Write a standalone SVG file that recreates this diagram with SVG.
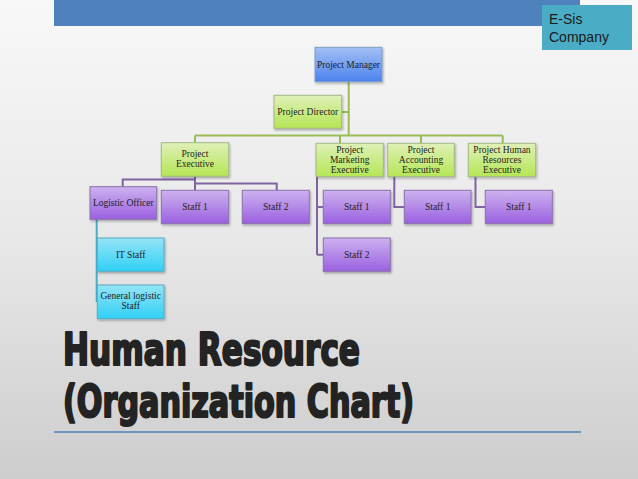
<svg xmlns="http://www.w3.org/2000/svg" width="638" height="479" viewBox="0 0 638 479">
<defs>
  <linearGradient id="bg" x1="0" y1="0" x2="0" y2="1">
    <stop offset="0" stop-color="#f8f8f8"/>
    <stop offset="0.5" stop-color="#e8e8e8"/>
    <stop offset="1" stop-color="#cdcdcd"/>
  </linearGradient>
  <linearGradient id="gBlue" x1="0" y1="0" x2="0" y2="1">
    <stop offset="0" stop-color="#a3c0f4"/>
    <stop offset="1" stop-color="#4c82ee"/>
  </linearGradient>
  <linearGradient id="gGreen" x1="0" y1="0" x2="0" y2="1">
    <stop offset="0" stop-color="#dff0b8"/>
    <stop offset="1" stop-color="#b5e655"/>
  </linearGradient>
  <linearGradient id="gPurple" x1="0" y1="0" x2="0" y2="1">
    <stop offset="0" stop-color="#cdb2ef"/>
    <stop offset="1" stop-color="#9a60e0"/>
  </linearGradient>
  <linearGradient id="gCyan" x1="0" y1="0" x2="0" y2="1">
    <stop offset="0" stop-color="#95e4f6"/>
    <stop offset="1" stop-color="#30d0f6"/>
  </linearGradient>
  <filter id="sh" x="-10%" y="-10%" width="130%" height="140%">
    <feDropShadow dx="1" dy="1.5" stdDeviation="1" flood-color="#000" flood-opacity="0.3"/>
  </filter>
  <style>
    .box { stroke-width: 1; filter: url(#sh); }
    .blue { fill: url(#gBlue); stroke: #7f9cc4; }
    .green { fill: url(#gGreen); stroke: #a2b884; }
    .purple { fill: url(#gPurple); stroke: #8a72aa; }
    .cyan { fill: url(#gCyan); stroke: #5aaac4; }
    .t { font-family: "Liberation Serif", "Times New Roman", serif; font-size: 9.5px; fill: #1e1e1e; text-anchor: middle; }
    .lg { fill: none; stroke: #9bbb59; stroke-width: 2; }
    .lp { fill: none; stroke: #8064a2; stroke-width: 2; }
    .lc { fill: none; stroke: #4bacc6; stroke-width: 2; }
    .title { font-family: "DejaVu Sans Condensed", "Liberation Sans Narrow", "Liberation Sans", sans-serif; font-weight: bold; font-size: 45px; fill: #232323; stroke: #232323; stroke-width: 2.2; stroke-linejoin: round; }
  </style>
</defs>

<rect x="0" y="0" width="638" height="479" fill="url(#bg)"/>

<!-- top banner -->
<rect x="54" y="0" width="526" height="26" fill="#4f81bd"/>
<g id="esis">
  <rect x="542" y="5" width="90" height="45" fill="#4bacc6"/>
  <text x="549" y="24" font-family="Liberation Sans, Arial, sans-serif" font-size="14" fill="#1a1a1a">E-Sis</text>
  <text x="549" y="42" font-family="Liberation Sans, Arial, sans-serif" font-size="14" fill="#1a1a1a">Company</text>
</g>

<!-- connectors -->
<g id="connectors">
  <path class="lg" d="M348.7,82 V135.5 M342,112 H348.7 M195,135.5 H502.7 M195,135.5 V143 M340,135.5 V143 M421,135.5 V143 M502.7,135.5 V143"/>
  <path class="lp" d="M195,176 V190.3 M195,179.5 H122.7 V186.7 M195,183.5 H276.7 V190.3"/>
  <path class="lc" d="M96.7,219 V302"/>
  <path class="lp" d="M317,176 V254.7 M317,207 H323.3 M317,254.7 H323.3"/>
  <path class="lp" d="M394.3,176 V207 H404.3"/>
  <path class="lp" d="M475.5,176 V207 H485.3"/>
</g>

<g id="project-manager">
  <rect class="box blue" x="315" y="47.3" width="67" height="34.4"/>
  <text class="t" x="348.5" y="67.5">Project Manager</text>
</g>
<g id="project-director">
  <rect class="box green" x="274" y="95.3" width="67.7" height="33"/>
  <text class="t" x="307.8" y="115">Project Director</text>
</g>

<g id="project-executive">
  <rect class="box green" x="161.3" y="142.7" width="67.4" height="33.6"/>
  <text class="t" x="195" y="157">Project</text>
  <text class="t" x="195" y="167">Executive</text>
</g>
<g id="project-marketing-executive">
  <rect class="box green" x="316" y="143.3" width="67.3" height="33.3"/>
  <text class="t" x="349.7" y="152.5">Project</text>
  <text class="t" x="349.7" y="162.5">Marketing</text>
  <text class="t" x="349.7" y="172.5">Executive</text>
</g>
<g id="project-accounting-executive">
  <rect class="box green" x="387.7" y="143.3" width="66.6" height="33.3"/>
  <text class="t" x="421" y="152.5">Project</text>
  <text class="t" x="421" y="162.5">Accounting</text>
  <text class="t" x="421" y="172.5">Executive</text>
</g>
<g id="project-hr-executive">
  <rect class="box green" x="468.3" y="143.3" width="67.4" height="33.3"/>
  <text class="t" x="502" y="152.5">Project Human</text>
  <text class="t" x="502" y="162.5">Resources</text>
  <text class="t" x="502" y="172.5">Executive</text>
</g>

<g id="logistic-officer">
  <rect class="box purple" x="90" y="186.7" width="66.7" height="32.6"/>
  <text class="t" x="123.3" y="206">Logistic Officer</text>
</g>
<g id="pe-staff1">
  <rect class="box purple" x="161.3" y="190.3" width="67.4" height="33.4"/>
  <text class="t" x="195" y="210">Staff 1</text>
</g>
<g id="pe-staff2">
  <rect class="box purple" x="242.3" y="190.3" width="67" height="33.4"/>
  <text class="t" x="275.8" y="210">Staff 2</text>
</g>
<g id="pme-staff1">
  <rect class="box purple" x="323.3" y="190.3" width="67" height="33.4"/>
  <text class="t" x="356.8" y="210">Staff 1</text>
</g>
<g id="pme-staff2">
  <rect class="box purple" x="323.3" y="238" width="67" height="33.3"/>
  <text class="t" x="356.8" y="257.5">Staff 2</text>
</g>
<g id="pae-staff1">
  <rect class="box purple" x="404.3" y="190.3" width="66.7" height="33.4"/>
  <text class="t" x="437.7" y="210">Staff 1</text>
</g>
<g id="phre-staff1">
  <rect class="box purple" x="485.3" y="190.3" width="67" height="33.4"/>
  <text class="t" x="518.8" y="210">Staff 1</text>
</g>

<g id="it-staff">
  <rect class="box cyan" x="97.3" y="238" width="66.7" height="33.3"/>
  <text class="t" x="130.7" y="257.5">IT Staff</text>
</g>
<g id="general-logistic-staff">
  <rect class="box cyan" x="97.3" y="285" width="66.7" height="33.7"/>
  <text class="t" x="130.7" y="299">General logistic</text>
  <text class="t" x="130.7" y="309">Staff</text>
</g>

<!-- title -->
<text class="title" x="63" y="365" textLength="297" lengthAdjust="spacingAndGlyphs">Human Resource</text>
<text class="title" x="63" y="417" textLength="351" lengthAdjust="spacingAndGlyphs">(Organization Chart)</text>
<line x1="54" y1="432" x2="581" y2="432" stroke="#6f95c4" stroke-width="2"/>
</svg>
